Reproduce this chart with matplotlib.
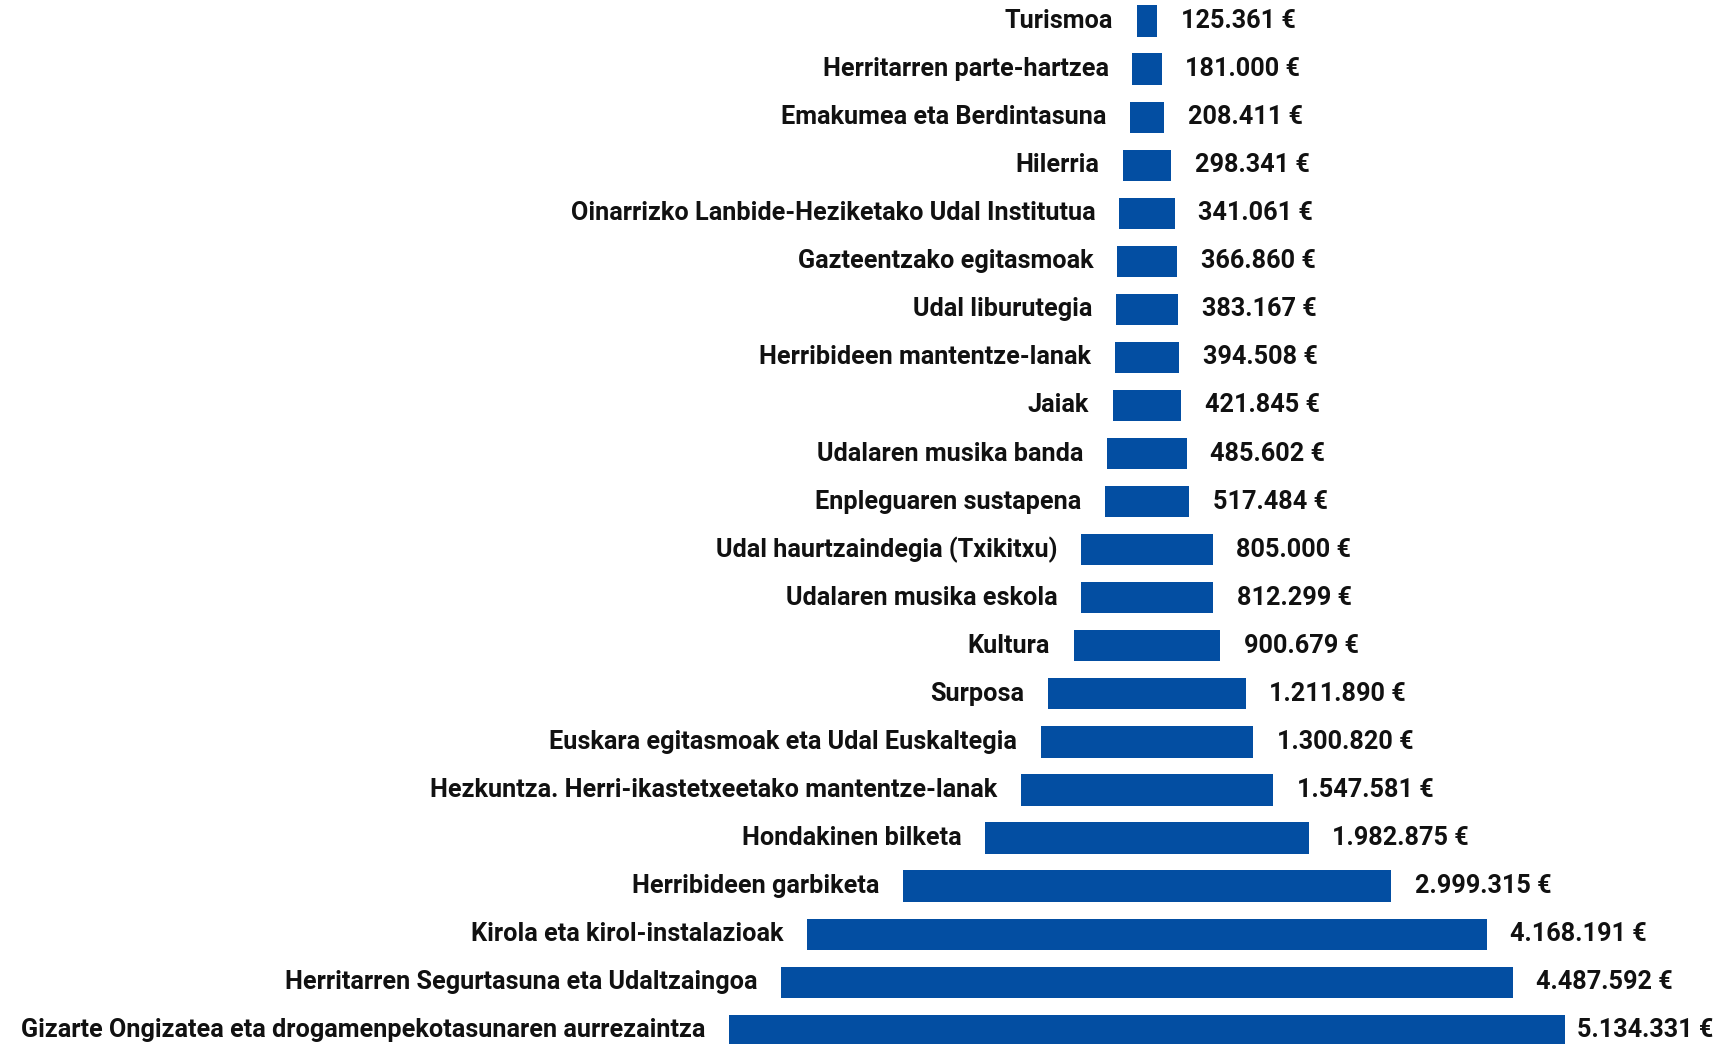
import matplotlib.pyplot as plt

# Gastu-sailak eta zenbatekoak (€)
labels = [
    'Turismoa',
    'Herritarren parte-hartzea',
    'Emakumea eta Berdintasuna',
    'Hilerria',
    'Oinarrizko Lanbide-Heziketako Udal Institutua',
    'Gazteentzako egitasmoak',
    'Udal liburutegia',
    'Herribideen mantentze-lanak',
    'Jaiak',
    'Udalaren musika banda',
    'Enpleguaren sustapena',
    'Udal haurtzaindegia (Txikitxu)',
    'Udalaren musika eskola',
    'Kultura',
    'Surposa',
    'Euskara egitasmoak eta Udal Euskaltegia',
    'Hezkuntza. Herri-ikastetxeetako mantentze-lanak',
    'Hondakinen bilketa',
    'Herribideen garbiketa',
    'Kirola eta kirol-instalazioak',
    'Herritarren Segurtasuna eta Udaltzaingoa',
    'Gizarte Ongizatea eta drogamenpekotasunaren aurrezaintza',
]
values = [125361, 181000, 208411, 298341, 341061, 366860, 383167, 394508,
          421845, 485602, 517484, 805000, 812299, 900679, 1211890, 1300820,
          1547581, 1982875, 2999315, 4168191, 4487592, 5134331]

blue = '#034ea2'
txt = dict(fontsize=18.2, fontweight='bold', family='Roboto', color='#111111')

def fmt(v):
    return '{:,}'.format(v).replace(',', '.') + ' €'

fig = plt.figure(figsize=(17.18, 10.44), dpi=100)
ax = fig.add_axes([0, 0, 1, 1])

ypos = list(range(len(values)))
lefts = [-v / 2 for v in values]
ax.barh(ypos, values, left=lefts, height=0.65, color=blue)

ax.set_xlim(-7036800, 3503100)
ax.set_ylim(21.286, -0.437)
ax.axis('off')

vtexts = []
for y, lab, v in zip(ypos, labels, values):
    ax.annotate(lab, (-v / 2, y), xytext=(-17, 0), textcoords='offset points',
                ha='right', va='center', **txt)
    t = ax.annotate(fmt(v), (v / 2, y), xytext=(17, 0), textcoords='offset points',
                    ha='left', va='center', **txt)
    vtexts.append(t)

# keep value labels inside the figure
fig.canvas.draw()
r = fig.canvas.get_renderer()
W = fig.bbox.width
for t in vtexts:
    bb = t.get_window_extent(r)
    if bb.x1 > W - 5:
        dx = (bb.x1 - (W - 5)) * 72 / fig.dpi
        t.set_position((17 - dx, 0))

fig.savefig('out.png', dpi=100)
